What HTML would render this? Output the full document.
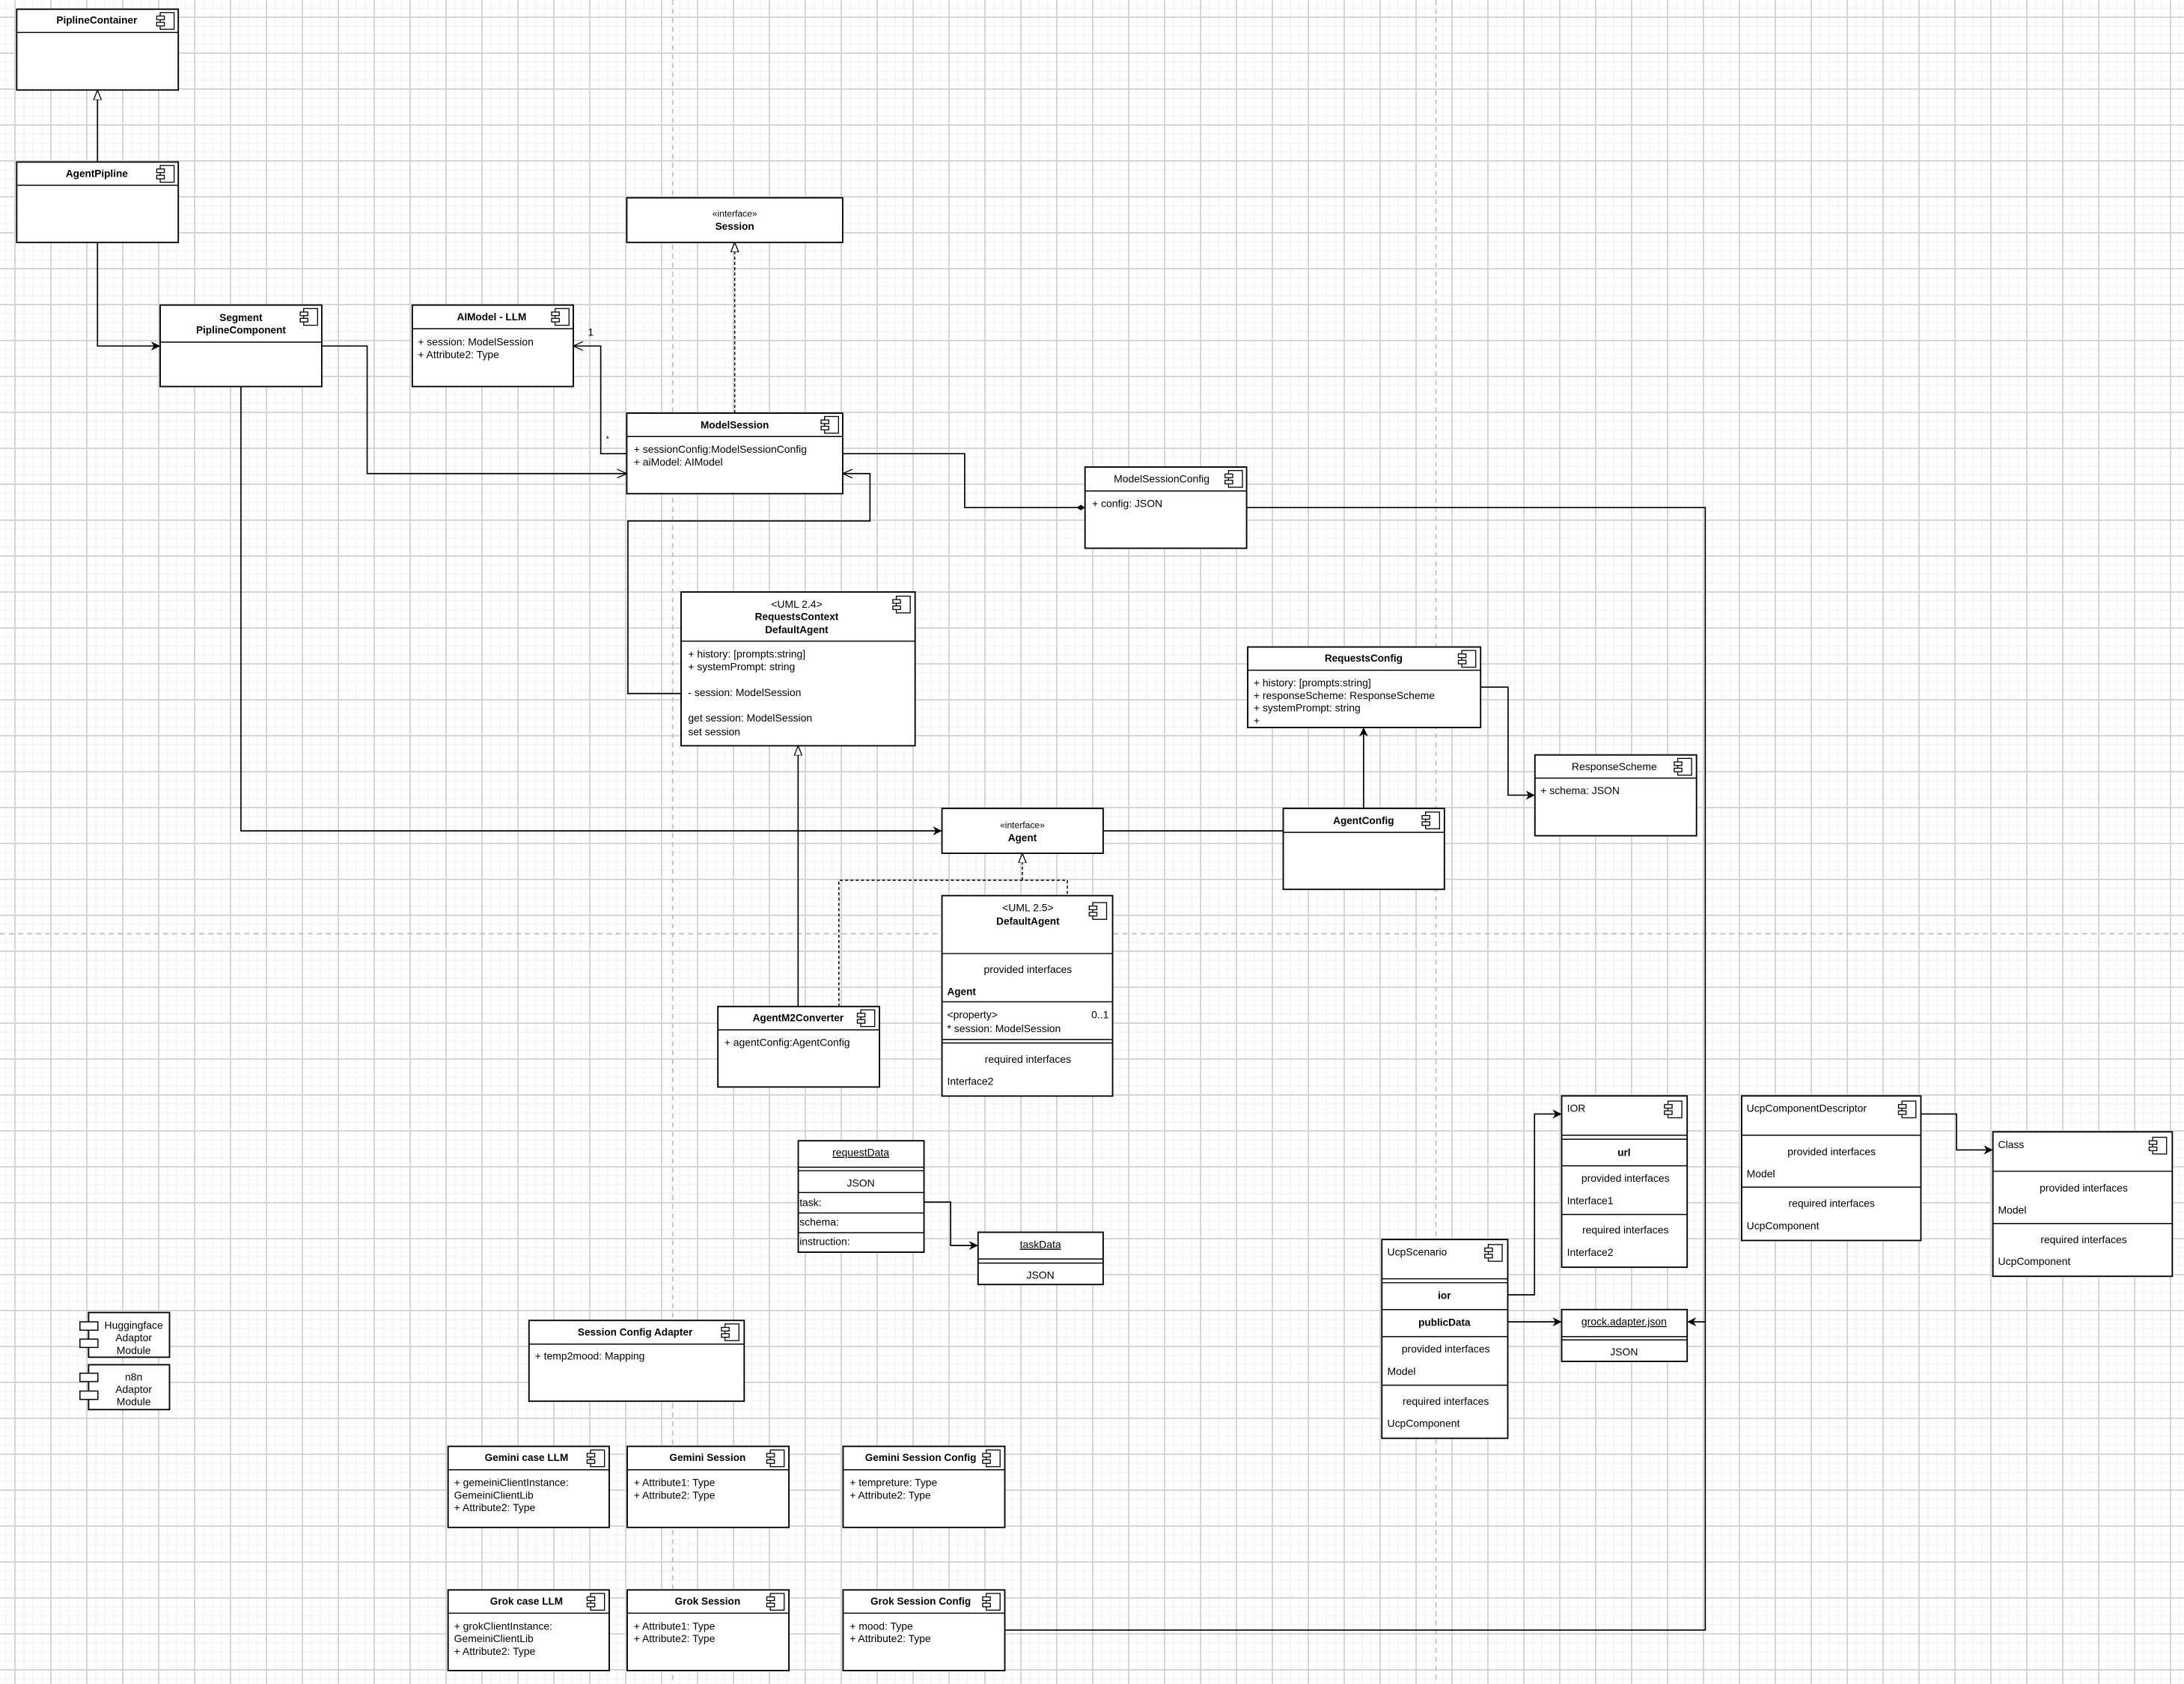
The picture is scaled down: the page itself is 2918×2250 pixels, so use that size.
<!DOCTYPE html>
<html><head><meta charset="utf-8">
<style>
html,body{margin:0;padding:0;}
body{width:2918px;height:2250px;overflow:hidden;background-color:#fff;
background-image:
linear-gradient(to right,#d6d6d6 2px,transparent 2px),
linear-gradient(to bottom,#d6d6d6 2px,transparent 2px),
linear-gradient(to right,#f6f6f6 2px,transparent 2px),
linear-gradient(to bottom,#f6f6f6 2px,transparent 2px);
background-size:48px 48px,48px 48px,12px 12px,12px 12px;
background-position:19px 0,0 22px,7px 0,0 10px;}
svg{position:absolute;left:0;top:0;}
text{font-family:"Liberation Sans",Arial,sans-serif;font-size:7.5px;fill:#000;}
.b{font-weight:bold;font-size:7.3px;}
.c{text-anchor:middle;}
.r{text-anchor:end;}
.u{text-decoration:underline;}
rect.bx{fill:#fff;stroke:#000;stroke-width:1;}
.ln{stroke:#000;stroke-width:0.9;fill:none;}
.dl{stroke:#000;stroke-width:0.8;fill:none;stroke-dasharray:2.2 1.6;}
.gd{stroke:#bdbdbd;stroke-width:0.9;fill:none;stroke-dasharray:3.5 3;}
.hl{stroke:#000;stroke-width:0.8;}
</style></head><body>
<svg width="2918" height="2250" viewBox="0 0 1568 1209" xmlns="http://www.w3.org/2000/svg">
<defs>
<g id="ic"><rect x="2.5" y="0" width="10" height="12" fill="#fff" stroke="#000" stroke-width="0.7"/><rect x="0" y="2.5" width="5.5" height="2.6" fill="#fff" stroke="#000" stroke-width="0.7"/><rect x="0" y="7" width="5.5" height="2.6" fill="#fff" stroke="#000" stroke-width="0.7"/></g>
<marker id="tri" viewBox="0 0 10 10" refX="10" refY="5" markerWidth="7" markerHeight="7" orient="auto" markerUnits="userSpaceOnUse"><path d="M0,1 L10,5 L0,9 z" fill="#fff" stroke="#000" stroke-width="1"/></marker>
<marker id="fil" viewBox="0 0 10 10" refX="10" refY="5" markerWidth="6.5" markerHeight="6.5" orient="auto" markerUnits="userSpaceOnUse"><path d="M0,0 L10,5 L0,10 L3,5 z" fill="#000"/></marker>
<marker id="opn" viewBox="0 0 10 10" refX="10" refY="5" markerWidth="7" markerHeight="7" orient="auto" markerUnits="userSpaceOnUse"><path d="M0,0.5 L10,5 L0,9.5" fill="none" stroke="#000" stroke-width="1"/></marker>
<marker id="dia" viewBox="0 0 12 8" refX="12" refY="4" markerWidth="6" markerHeight="4" orient="auto" markerUnits="userSpaceOnUse"><path d="M0,4 L6,0 L12,4 L6,8 z" fill="#000"/></marker>
</defs>

<line class="gd" x1="483" y1="0" x2="483" y2="1209"/>
<line class="gd" x1="1031" y1="0" x2="1031" y2="1209"/>
<line class="gd" x1="0" y1="670.4" x2="1568" y2="670.4"/>

<path class="ln" d="M70,116.3 V64.7" marker-end="url(#tri)"/>
<path class="ln" d="M70,174 V248.4 H115" marker-end="url(#fil)"/>
<path class="ln" d="M231,248.4 H263.6 V340 H450" marker-end="url(#opn)"/>
<path class="ln" d="M450,325.7 H431.3 V248.4 H411.6" marker-start="url(#dia)" marker-end="url(#opn)"/>
<text x="422" y="241">1</text>
<text x="435" y="317" style="font-size:6px">*</text>
<path class="dl" d="M527.5,296.6 V174" marker-end="url(#tri)"/>
<path class="ln" d="M605,325.7 H692.6 V364.4 H779" marker-end="url(#dia)"/>
<path class="ln" d="M489,497.9 H450.8 V374 H624.6 V340 H605" marker-end="url(#opn)"/>
<path class="ln" d="M173,277.5 V596.5 H676.3" marker-end="url(#fil)"/>
<path class="ln" d="M792,596.5 H921.3"/>
<path class="ln" d="M979,580.4 V522.3" marker-end="url(#fil)"/>
<path class="ln" d="M1063,493.3 H1082.7 V570.9 H1102" marker-end="url(#fil)"/>
<path class="ln" d="M573,722.6 V535.4" marker-end="url(#tri)"/>
<path class="dl" d="M602.3,722.6 V632 H766.3 V643"/>
<path class="dl" d="M734,632 V612.6" marker-end="url(#tri)"/>
<path class="ln" d="M895,364.4 H1224.3 V1170.3 H721.4"/>
<path class="ln" d="M1224.3,949 H1211.3" marker-end="url(#fil)"/>
<path class="ln" d="M663.4,863 H682.5 V894.2 H702.2" marker-end="url(#fil)"/>
<path class="ln" d="M1082.5,929.6 H1101.7 V799.8 H1121.2" marker-end="url(#fil)"/>
<path class="ln" d="M1082.5,949 H1121.2" marker-end="url(#fil)"/>
<path class="ln" d="M1379.1,799.8 H1404.7 V825.6 H1430.8" marker-end="url(#fil)"/>

<rect class="bx" x="12" y="6.6" width="116" height="58"/><line class="hl" x1="12" y1="23.3" x2="128" y2="23.3"/>
<text class="b c" x="69.5" y="17">PiplineContainer</text><use href="#ic" x="112.5" y="9"/>
<rect class="bx" x="12" y="116.3" width="116" height="57.7"/><line class="hl" x1="12" y1="133" x2="128" y2="133"/>
<text class="b c" x="69.5" y="127">AgentPipline</text><use href="#ic" x="112.5" y="118.8"/>
<rect class="bx" x="115" y="219" width="116" height="58.5"/><line class="hl" x1="115" y1="245.6" x2="231" y2="245.6"/>
<text class="b c" x="173" y="230.5">Segment</text><text class="b c" x="173" y="239.5">PiplineComponent</text><use href="#ic" x="215.5" y="221.5"/>
<rect class="bx" x="296" y="219" width="115.6" height="58.5"/><line class="hl" x1="296" y1="236" x2="411.6" y2="236"/>
<text class="b c" x="353" y="230">AIModel - LLM</text><use href="#ic" x="396" y="221.5"/>
<text x="300" y="248">+ session: ModelSession</text><text x="300" y="257">+ Attribute2: Type</text>
<rect class="bx" x="450" y="142" width="155" height="32"/>
<text class="c" x="527.5" y="155.5" style="font-size:6.5px">«interface»</text><text class="b c" x="527.5" y="165">Session</text>
<rect class="bx" x="450" y="296.6" width="155" height="57.8"/><line class="hl" x1="450" y1="313.4" x2="605" y2="313.4"/>
<text class="b c" x="527.5" y="307.5">ModelSession</text><use href="#ic" x="589.5" y="299"/>
<text x="455" y="325">+ sessionConfig:ModelSessionConfig</text><text x="455" y="334.3">+ aiModel: AIModel</text>
<rect class="bx" x="779" y="335.3" width="116" height="58.3"/><line class="hl" x1="779" y1="352.5" x2="895" y2="352.5"/>
<text class="c" x="834" y="346.3">ModelSessionConfig</text><use href="#ic" x="879.5" y="337.8"/>
<text x="784" y="364">+ config: JSON</text>
<rect class="bx" x="489" y="425" width="168" height="110.4"/><line class="hl" x1="489" y1="460.3" x2="657" y2="460.3"/>
<text class="c" x="572" y="436.3">&lt;UML 2.4&gt;</text><text class="b c" x="572" y="445.3">RequestsContext</text><text class="b c" x="572" y="454.5">DefaultAgent</text>
<use href="#ic" x="641" y="428"/>
<text x="494" y="472">+ history: [prompts:string]</text><text x="494" y="481.3">+ systemPrompt: string</text>
<text x="494" y="499.8">- session: ModelSession</text><text x="494" y="518">get session: ModelSession</text><text x="494" y="527.8">set session</text>
<rect class="bx" x="895.8" y="464.5" width="167.2" height="57.8"/><line class="hl" x1="895.8" y1="481.2" x2="1063" y2="481.2"/>
<text class="b c" x="979" y="475">RequestsConfig</text><use href="#ic" x="1047" y="467"/>
<text x="900" y="492.8">+ history: [prompts:string]</text><text x="900" y="501.8">+ responseScheme:  ResponseScheme</text><text x="900" y="510.8">+ systemPrompt: string</text><text x="900" y="519.8">+</text>
<rect class="bx" x="1102" y="542" width="116" height="58"/><line class="hl" x1="1102" y1="558.6" x2="1218" y2="558.6"/>
<text class="c" x="1159" y="552.8">ResponseScheme</text><use href="#ic" x="1202" y="544.5"/>
<text x="1106" y="570">+ schema: JSON</text>
<rect class="bx" x="676.3" y="580.4" width="115.7" height="32.2"/>
<text class="c" x="734" y="594.5" style="font-size:6.5px">«interface»</text><text class="b c" x="734" y="604">Agent</text>
<rect class="bx" x="921.3" y="580.4" width="115.7" height="58.1"/><line class="hl" x1="921.3" y1="597.6" x2="1037" y2="597.6"/>
<text class="b c" x="979" y="591.5">AgentConfig</text><use href="#ic" x="1021" y="583"/>
<rect class="bx" x="515.4" y="722.6" width="116" height="57.8"/><line class="hl" x1="515.4" y1="739.4" x2="631.4" y2="739.4"/>
<text class="b c" x="573" y="733.3">AgentM2Converter</text><use href="#ic" x="615.5" y="725"/>
<text x="520" y="751">+ agentConfig:AgentConfig</text>
<rect class="bx" x="676.3" y="643" width="122.5" height="143.9"/>
<line class="hl" x1="676.3" y1="684.6" x2="798.8" y2="684.6"/><line class="hl" x1="676.3" y1="719.2" x2="798.8" y2="719.2"/>
<line class="hl" x1="676.3" y1="746.3" x2="798.8" y2="746.3"/><line class="hl" x1="676.3" y1="748.8" x2="798.8" y2="748.8"/>
<text class="c" x="738" y="654.3">&lt;UML 2.5&gt;</text><text class="b c" x="738" y="664">DefaultAgent</text><use href="#ic" x="782" y="648"/>
<text class="c" x="738" y="698.5">provided interfaces</text><text class="b" x="680" y="714.3">Agent</text>
<text x="680" y="731">&lt;property&gt;</text><text class="r" x="796" y="731">0..1</text><text x="680" y="741">* session: ModelSession</text>
<text class="c" x="738" y="763">required interfaces</text><text x="680" y="779">Interface2</text>
<rect class="bx" x="573.1" y="819" width="90.3" height="80"/>
<line class="hl" x1="573.1" y1="838" x2="663.4" y2="838"/><line class="hl" x1="573.1" y1="840.5" x2="663.4" y2="840.5"/>
<line class="hl" x1="573.1" y1="856.2" x2="663.4" y2="856.2"/><line class="hl" x1="573.1" y1="870.8" x2="663.4" y2="870.8"/><line class="hl" x1="573.1" y1="885" x2="663.4" y2="885"/>
<text class="c u" x="618" y="830">requestData</text><text class="c" x="618" y="852">JSON</text>
<text x="574" y="866">task:</text><text x="574" y="880">schema:</text><text x="574" y="894">instruction:</text>
<rect class="bx" x="702.2" y="884.7" width="89.8" height="37.5"/>
<line class="hl" x1="702.2" y1="903.9" x2="792" y2="903.9"/><line class="hl" x1="702.2" y1="906.8" x2="792" y2="906.8"/>
<text class="c u" x="747" y="896">taskData</text><text class="c" x="747" y="918">JSON</text>
<rect class="bx" x="63.6" y="942.3" width="58.1" height="32.1"/>
<rect class="bx" x="57.4" y="949" width="12.9" height="6" style="stroke-width:0.8"/><rect class="bx" x="57.4" y="961.4" width="12.9" height="6" style="stroke-width:0.8"/>
<text class="c" x="96" y="954">Huggingface</text><text class="c" x="96" y="963">Adaptor</text><text class="c" x="96" y="972">Module</text>
<rect class="bx" x="63.6" y="979.8" width="58.1" height="32.2"/>
<rect class="bx" x="57.4" y="985.9" width="12.9" height="6" style="stroke-width:0.8"/><rect class="bx" x="57.4" y="998.7" width="12.9" height="6" style="stroke-width:0.8"/>
<text class="c" x="96" y="991">n8n</text><text class="c" x="96" y="1000">Adaptor</text><text class="c" x="96" y="1009">Module</text>
<rect class="bx" x="379.8" y="948" width="154.5" height="58"/><line class="hl" x1="379.8" y1="965" x2="534.3" y2="965"/>
<text class="b c" x="456" y="959">Session Config Adapter</text><use href="#ic" x="518" y="950.5"/>
<text x="384" y="976">+ temp2mood: Mapping</text>
<rect class="bx" x="321.7" y="1038.4" width="115.7" height="58.2"/><line class="hl" x1="321.7" y1="1055.2" x2="437.4" y2="1055.2"/>
<text class="b c" x="378" y="1049">Gemini case LLM</text><use href="#ic" x="421.5" y="1041"/>
<text x="326" y="1067">+ gemeiniClientInstance:</text><text x="326" y="1076">GemeiniClientLib</text><text x="326" y="1085">+ Attribute2: Type</text>
<rect class="bx" x="450.3" y="1038.4" width="116.1" height="58.2"/><line class="hl" x1="450.3" y1="1055.2" x2="566.4" y2="1055.2"/>
<text class="b c" x="508" y="1049">Gemini Session</text><use href="#ic" x="550.5" y="1041"/>
<text x="455" y="1067">+ Attribute1: Type</text><text x="455" y="1076">+ Attribute2: Type</text>
<rect class="bx" x="605.3" y="1038.4" width="116.1" height="58.2"/><line class="hl" x1="605.3" y1="1055.2" x2="721.4" y2="1055.2"/>
<text class="b c" x="661" y="1049">Gemini Session Config</text><use href="#ic" x="705.5" y="1041"/>
<text x="610" y="1067">+ tempreture: Type</text><text x="610" y="1076">+ Attribute2: Type</text>
<rect class="bx" x="321.7" y="1141.5" width="115.7" height="57.9"/><line class="hl" x1="321.7" y1="1158.2" x2="437.4" y2="1158.2"/>
<text class="b c" x="378" y="1152">Grok case LLM</text><use href="#ic" x="421.5" y="1144"/>
<text x="326" y="1170">+ grokClientInstance:</text><text x="326" y="1179">GemeiniClientLib</text><text x="326" y="1188">+ Attribute2: Type</text>
<rect class="bx" x="450.3" y="1141.5" width="116.1" height="57.9"/><line class="hl" x1="450.3" y1="1158.2" x2="566.4" y2="1158.2"/>
<text class="b c" x="508" y="1152">Grok Session</text><use href="#ic" x="550.5" y="1144"/>
<text x="455" y="1170">+ Attribute1: Type</text><text x="455" y="1179">+ Attribute2: Type</text>
<rect class="bx" x="605.3" y="1141.5" width="116.1" height="57.9"/><line class="hl" x1="605.3" y1="1158.2" x2="721.4" y2="1158.2"/>
<text class="b c" x="661" y="1152">Grok Session Config</text><use href="#ic" x="705.5" y="1144"/>
<text x="610" y="1170">+ mood: Type</text><text x="610" y="1179">+ Attribute2: Type</text>
<rect class="bx" x="992.1" y="889.9" width="90.4" height="142.7"/>
<line class="hl" x1="992.1" y1="918.1" x2="1082.5" y2="918.1"/><line class="hl" x1="992.1" y1="920.9" x2="1082.5" y2="920.9"/>
<line class="hl" x1="992.1" y1="940.2" x2="1082.5" y2="940.2"/><line class="hl" x1="992.1" y1="959.6" x2="1082.5" y2="959.6"/><line class="hl" x1="992.1" y1="994.5" x2="1082.5" y2="994.5"/>
<text x="996" y="901.5">UcpScenario</text><use href="#ic" x="1066" y="893.5"/>
<text class="b c" x="1037" y="932.5">ior</text><text class="b c" x="1037" y="952">publicData</text>
<text class="c" x="1038" y="971">provided interfaces</text><text x="996" y="987">Model</text>
<text class="c" x="1038" y="1008.5">required interfaces</text><text x="996" y="1024.5">UcpComponent</text>
<rect class="bx" x="1121.2" y="786.8" width="90.1" height="123"/>
<line class="hl" x1="1121.2" y1="815" x2="1211.3" y2="815"/><line class="hl" x1="1121.2" y1="817.9" x2="1211.3" y2="817.9"/>
<line class="hl" x1="1121.2" y1="837" x2="1211.3" y2="837"/><line class="hl" x1="1121.2" y1="871.9" x2="1211.3" y2="871.9"/>
<text x="1125" y="798.3">IOR</text><use href="#ic" x="1195" y="790.5"/>
<text class="b c" x="1166" y="830">url</text><text class="c" x="1167" y="848.5">provided interfaces</text><text x="1125" y="864.5">Interface1</text>
<text class="c" x="1167" y="885.5">required interfaces</text><text x="1125" y="901.7">Interface2</text>
<rect class="bx" x="1121.2" y="940.2" width="90.1" height="37.2"/>
<line class="hl" x1="1121.2" y1="959.6" x2="1211.3" y2="959.6"/><line class="hl" x1="1121.2" y1="962" x2="1211.3" y2="962"/>
<text class="c u" x="1166" y="951.5">grock.adapter.json</text><text class="c" x="1166" y="973">JSON</text>
<rect class="bx" x="1250.4" y="786.8" width="128.7" height="103.8"/>
<line class="hl" x1="1250.4" y1="815" x2="1379.1" y2="815"/><line class="hl" x1="1250.4" y1="852.3" x2="1379.1" y2="852.3"/>
<text x="1254" y="798.3">UcpComponentDescriptor</text><use href="#ic" x="1363" y="790.5"/>
<text class="c" x="1315" y="829.4">provided interfaces</text><text x="1254" y="845.3">Model</text>
<text class="c" x="1315" y="866.4">required interfaces</text><text x="1254" y="882.6">UcpComponent</text>
<rect class="bx" x="1430.8" y="812.6" width="128.8" height="103.7"/>
<line class="hl" x1="1430.8" y1="840.9" x2="1559.6" y2="840.9"/><line class="hl" x1="1430.8" y1="878.4" x2="1559.6" y2="878.4"/>
<text x="1434.5" y="824.2">Class</text><use href="#ic" x="1543" y="816.5"/>
<text class="c" x="1496" y="855.4">provided interfaces</text><text x="1434.5" y="871.4">Model</text>
<text class="c" x="1496" y="892.5">required interfaces</text><text x="1434.5" y="908.2">UcpComponent</text>
</svg>
</body></html>
